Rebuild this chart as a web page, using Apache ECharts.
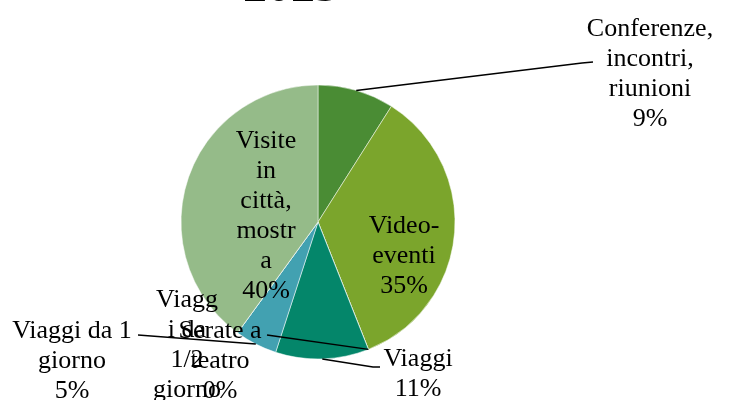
<!DOCTYPE html>
<html>
<head>
<meta charset="utf-8">
<script src="https://cdn.jsdelivr.net/npm/echarts@6/dist/echarts.min.js"></script>
<style>
  html, body { margin: 0; padding: 0; background: #fff; }
  #chart { width: 729px; height: 400px; }
</style>
</head>
<body>
<div id="chart"></div>
<script>
var categories = ["Conferenze, incontri, riunioni", "Video-eventi", "Serate a teatro", "Viaggi",
  "Viaggi da 1 giorno", "Viaggi da 1/2 giorno", "Visite in città, mostra"];
var wrappedNames = ["Conferenze,\nincontri,\nriunioni", "Video-\neventi", "Serate a\nteatro", "Viaggi",
  "Viaggi da 1\ngiorno", "Viagg\ni da\n1/2\ngiorno", "Visite\nin\ncittà,\nmostr\na"];
var values = [9, 35, 0, 11, 5, 0, 40];
var colors = ["#4a8c34", "#7ba52c", "#04866a", "#04866a", "#42a1b1", "#42a1b1", "#95bb89"];

// label centres, and where each leader line bends / ends (null = no line)
var labelPos = [[650, 74], [404, 256], [220, 361], [418, 374], [72, 361], [187, 360], [266, 216]];
var lineEnds = [
  [[582, 63], [593, 62]],
  null,
  [[267, 335], [267, 335]],
  [[373, 367], [380, 367]],
  [[138, 335], [138, 335]],
  null,
  null
];

var chart = echarts.init(document.getElementById("chart"));

var pieBase = {
  type: "pie",
  center: [318, 222],
  radius: 137,
  startAngle: 90,
  clockwise: true
};

// sectors only
var sectors = Object.assign({}, pieBase, {
  z: 2,
  itemStyle: {borderColor: "#fff", borderWidth: 0.5},
  label: {show: false},
  labelLine: {show: false},
  data: categories.map(function (name, i) {
    return {name: name, value: values[i], itemStyle: {color: colors[i]}};
  })
});

// same pie again, invisible, so labels and leader lines sit above every slice
var labels = Object.assign({}, pieBase, {
  z: 3,
  silent: true,
  itemStyle: {color: "rgba(0,0,0,0)", borderWidth: 0},
  label: {
    show: true,
    position: "outside",
    fontFamily: "Liberation Serif",
    fontSize: 26,
    lineHeight: 30,
    color: "#000",
    align: "center",
    formatter: function (p) {
      return wrappedNames[p.dataIndex] + "\n" + Math.round(p.percent) + "%";
    }
  },
  labelLine: {
    show: true,
    length: 10,
    length2: 10,
    lineStyle: {color: "#000", width: 1.5}
  },
  labelLayout: function (p) {
    var i = p.dataIndex;
    var pos = labelPos[i];
    var out = {x: pos[0], y: pos[1], align: "center", verticalAlign: "middle", hideOverlap: false};
    if (lineEnds[i] && p.labelLinePoints) {
      // start the leader where ECharts anchors it on the arc
      out.labelLinePoints = [p.labelLinePoints[0], lineEnds[i][0], lineEnds[i][1]];
    }
    return out;
  },
  data: categories.map(function (name, i) {
    return {name: name, value: values[i], labelLine: {show: lineEnds[i] !== null}};
  })
});

chart.setOption({
  backgroundColor: "#fff",
  animation: false,
  title: {
    text: "2023",
    left: 243,
    top: -35,
    padding: 0,
    textStyle: {fontFamily: "Liberation Serif", fontSize: 48, fontWeight: "bold", color: "#000"}
  },
  series: [sectors, labels]
});
</script>
</body>
</html>
